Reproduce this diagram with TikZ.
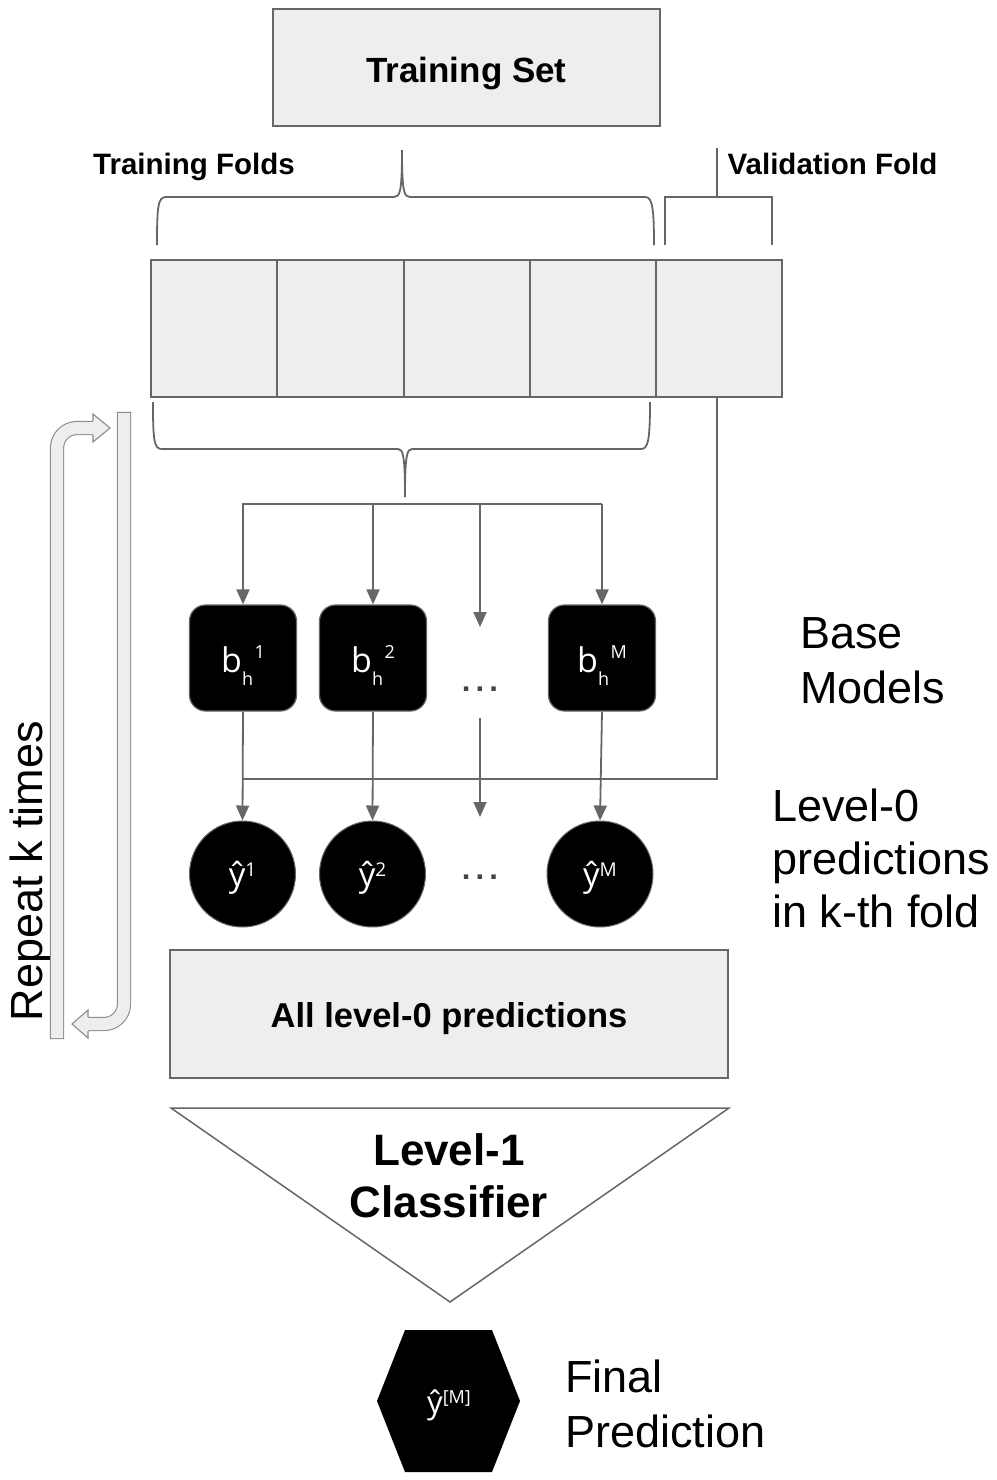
\documentclass[tikz,border=0pt]{standalone}
\usepackage{fontspec}
\setmainfont{Liberation Sans}
\newfontfamily\osans{Open Sans}
\usetikzlibrary{arrows.meta}
\definecolor{linegray}{HTML}{666666}
\definecolor{boxfill}{HTML}{EEEEEE}
\definecolor{repgray}{HTML}{8C8C8C}
\definecolor{dotgray}{HTML}{444444}
\newcommand{\bmlabel}[1]{{\fontsize{34}{34}\selectfont b}\raisebox{-13pt}{\fontsize{18}{18}\selectfont h}\hspace{1.5pt}\raisebox{14pt}{\fontsize{18}{18}\selectfont #1}}
\newcommand{\yhlabel}[1]{{\fontsize{33}{33}\selectfont ŷ}\raisebox{10pt}{\fontsize{19}{19}\selectfont #1}}
\begin{document}
\begin{tikzpicture}[x=1pt,y=-1pt,
  ln/.style={draw=linegray, line width=1.8pt},
  arr/.style={ln, -{Triangle[length=15pt,width=13pt]}},
  gbox/.style={draw=linegray, line width=1.5pt, fill=boxfill, inner sep=0pt},
  fold/.style={gbox, minimum width=126pt, minimum height=137pt},
  lbl/.style={inner sep=0pt, font=\bfseries\fontsize{29.5}{30}\selectfont},
  big/.style={inner sep=0pt, anchor=base west, font=\fontsize{45}{45}\selectfont},
  bmodel/.style={draw=linegray, line width=1.2pt, fill=black, rounded corners=16pt,
    minimum width=107pt, minimum height=106pt, inner sep=0pt, text=white,
    font=\osans, text height=28pt, text depth=0pt},
  pred/.style={circle, draw=linegray, line width=1pt, fill=black, minimum size=106pt,
    inner sep=0pt, text=white, font=\osans, text height=25pt, text depth=0pt},
  dots/.style={inner sep=0pt, anchor=base, text=dotgray, font=\bfseries\fontsize{31}{31}\selectfont},
  rep/.style={draw=repgray, line width=1.1pt, double=boxfill, double distance=12pt,
    line cap=rect, rounded corners=20pt},
  rephead/.style={fill=boxfill},
  repedge/.style={draw=repgray, line width=1.1pt, line join=miter}
]
\useasboundingbox (0,0) rectangle (996,1480);

% Training set
\node[gbox, minimum width=387pt, minimum height=117pt, text height=29pt, text depth=0pt,
  font=\bfseries\fontsize{35}{35}\selectfont] (ts) at (466.5,67.5) {Training Set};

% labels
\node[lbl, anchor=base] (tf) at (194,174) {Training Folds};
\node[lbl, anchor=base] (vf) at (832.5,174) {Validation Fold};

% braces
\draw[ln] (157,245) .. controls (157,206) and (158,197) .. (166,197) -- (394,197)
  .. controls (400,197) and (402,192) .. (402,150);
\draw[ln] (402,150) .. controls (402,192) and (404,197) .. (410,197) -- (645,197)
  .. controls (652,197) and (654,206) .. (654,245);
\draw[ln] (665,245) -- (665,197) -- (772,197) -- (772,245);
\draw[ln] (717,197) -- (717,148);

% folds
\node[fold] (f1) at (214,328.5) {};
\node[fold, minimum width=127pt] (f2) at (340.5,328.5) {};
\node[fold] (f3) at (467,328.5) {};
\node[fold] (f4) at (593,328.5) {};
\node[fold] (f5) at (719,328.5) {};

% lower brace
\draw[ln] (153,402) .. controls (153,441) and (154,449) .. (162,449) -- (398,449)
  .. controls (403,449) and (405,455) .. (405,497);
\draw[ln] (405,497) .. controls (405,455) and (407,449) .. (412,449) -- (641,449)
  .. controls (648,449) and (650,441) .. (650,402);

% base models
\node[bmodel] (b1) at (243,658) {\bmlabel{1}};
\node[bmodel] (b2) at (373,658) {\bmlabel{2}};
\node[bmodel] (bM) at (602,658) {\bmlabel{M}};
\node[dots] (d1) at (480,691) {.\,.\,.};

% distribution
\coordinate (dl) at (243,504);
\coordinate (dr) at (602,504);
\coordinate (dm) at (480,504);
\coordinate (dmt) at (480,627);
\coordinate (c2) at (373,504);
\draw[arr] (dr) -- (dl) -- (b1.north);
\draw[arr] (c2) -- (b2.north);
\draw[arr] (dm) -- (dmt);
\draw[arr] (dr) -- (bM.north);

% predictions
\node[pred] (y1) at (242.5,874) {\yhlabel{1}};
\node[pred] (y2) at (372.5,874) {\yhlabel{2}};
\node[pred] (yM) at (600,874) {\yhlabel{M}};
\node[dots] (d2) at (480,879) {.\,.\,.};

% validation line
\coordinate (vc) at (717,779);
\coordinate (ve) at (243,779);
\draw[ln] (vc |- f5.south) -- (vc) -- (ve);

\draw[arr] (b1.south) -- (y1.north);
\draw[arr] (b2.south) -- (y2.north);
\draw[arr] (bM.south) -- (yM.north);
\coordinate (dm2a) at (480,718);
\coordinate (dm2b) at (480,817);
\draw[arr] (dm2a) -- (dm2b);

% right texts
\node[big] (bm1) at (800,648) {Base};
\node[big] (bm2) at (800,703) {Models};
\node[big] (lv1) at (772,821) {Level-0};
\node[big] (lv2) at (772,874) {predictions};
\node[big] (lv3) at (772,927) {in k-th fold};

% all level-0
\node[gbox, minimum width=558pt, minimum height=128pt, text height=27pt, text depth=0pt,
  font=\bfseries\fontsize{34.5}{35}\selectfont] (all) at (449,1014) {All level-0 predictions};

% level-1 classifier
\draw[draw=linegray, line width=1.5pt, fill=white, line join=miter] (171,1108) -- (729,1108) -- (450,1302) -- cycle;
\node[inner sep=0pt, anchor=base, font=\bfseries\fontsize{44}{44}\selectfont] (lc1) at (449,1165) {Level-1};
\node[inner sep=0pt, anchor=base, font=\bfseries\fontsize{44}{44}\selectfont] (lc2) at (449,1217) {Classifier};

% final prediction
\fill[black] (405,1330) -- (492,1330) -- (520,1401) -- (492,1472) -- (405,1472) -- (377,1401) -- cycle;
\node[inner sep=0pt, text=white, font=\osans, text height=24pt, text depth=0pt] (hx) at (449,1401)
  {{\fontsize{31}{31}\selectfont ŷ}\raisebox{10pt}{\fontsize{18}{18}\selectfont [M]}};
\node[big] (fp1) at (565,1392) {Final};
\node[big] (fp2) at (565,1447) {Prediction};

% repeat
\node[rotate=90, inner sep=0pt, font=\fontsize{45}{45}\selectfont] (rk) at (31,871) {Repeat k times};
\draw[rep] (57,1032) -- (57,428) -- (93,428);
\fill[rephead] (93,414) -- (110,428) -- (93,442) -- cycle;
\draw[repedge] (93,421) -- (93,414) -- (110,428) -- (93,442) -- (93,435);
\draw[rep] (124,419) -- (124,1024) -- (88,1024);
\fill[rephead] (88,1010) -- (72,1024) -- (88,1038) -- cycle;
\draw[repedge] (88,1017) -- (88,1010) -- (72,1024) -- (88,1038) -- (88,1031);
\end{tikzpicture}
\end{document}
